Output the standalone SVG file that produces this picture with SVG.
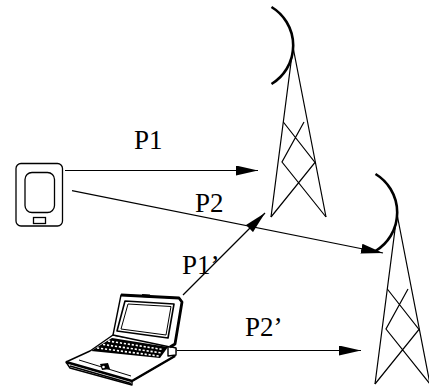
<svg xmlns="http://www.w3.org/2000/svg" width="429" height="388" viewBox="0 0 429 388">
  <style>
    .bg { fill: #ffffff; }
    .leg { fill: none; stroke: #000; stroke-width: 1.2; }
    .dish { fill: none; stroke: #000; stroke-width: 2.6; }
    .link { fill: none; stroke: #000; stroke-width: 1.2; }
    .body { fill: #fff; stroke: #000; stroke-width: 1.3; }
    .label { font-family: "Liberation Serif", "Times New Roman", serif; font-size: 27px; fill: #000; }
  </style>
  <defs>
    <marker id="head" markerUnits="userSpaceOnUse" markerWidth="22" markerHeight="10" refX="22" refY="5" orient="auto">
      <path d="M0,0 L22,5 L0,10 z" fill="#000"/>
    </marker>
    <!-- lattice mast with a dish antenna on top -->
    <g id="mast">
      <path class="dish" d="M271.5,7 A45,45 0 0 1 271.5,84"/>
      <path class="leg" d="M271,217 L293,47 L326,217"/>
      <path class="leg" d="M283.3,122 L315,162.5 L271,217 M304,122 L282,162 L326,217"/>
    </g>
  </defs>
  <rect class="bg" x="0" y="0" width="429" height="388"/>

  <g id="tower1">
    <use href="#mast"/>
  </g>
  <g id="tower2">
    <use href="#mast" transform="translate(104,167)"/>
  </g>

  <g id="phone">
    <rect class="body" x="16" y="163.5" width="46.5" height="62.5" rx="5"/>
    <rect class="body" x="25" y="172.5" width="29.5" height="40" rx="7"/>
    <rect class="body" x="33.5" y="217.5" width="12" height="6"/>
  </g>

  <g id="laptop" stroke-linejoin="round">
    <!-- base -->
    <path d="M113,335 L169,345 L176,349 L175,356 L132,381 L132,385 L70,368 L66,362 L90,351 z" fill="#fff" stroke="#000" stroke-width="1.4"/>
    <path d="M66,362 L132,381 L175,356" fill="none" stroke="#000" stroke-width="2.4"/>
    <path d="M70,366 L131,383.5" fill="none" stroke="#000" stroke-width="1.6"/>
    <!-- keyboard -->
    <path d="M112,338 L168,347 L160,358 L91,351 z" fill="#000"/>
    <g stroke="#fff" stroke-width="1.6" stroke-dasharray="2.2 1.8" fill="none">
      <path d="M108,341 L163,349.5"/>
      <path d="M103,344.5 L162,353"/>
      <path d="M97,348 L159,356"/>
    </g>
    <!-- palm rest and pointer -->
    <path d="M79,360 L131,376" fill="none" stroke="#000" stroke-width="1"/>
    <path d="M100,364 L108,363 L110,369 L102,370 z" fill="#000"/>
    <circle cx="103.5" cy="367" r="1.3" fill="#fff"/>
    <!-- right side block -->
    <path d="M168,346 L176,348 L176,355 L168,356 z" fill="#fff" stroke="#000" stroke-width="1.4"/>
    <!-- lid -->
    <path d="M121,295 L179,298 L182,302 L175,344 L170,347 L113,335 z" fill="#fff" stroke="#000" stroke-width="1.4"/>
    <path d="M121,295 L179,298 L182,302 L175,344 L170,347" fill="none" stroke="#000" stroke-width="2.8"/>
    <path d="M142,295.5 L150,296" stroke="#000" stroke-width="3"/>
    <path d="M125,301 L174,304 L168,338 L117,331 z" fill="none" stroke="#000" stroke-width="1.6"/>
    <path d="M128,304 L171,306.5 L166,335 L121,329 z" fill="#fff" stroke="#000" stroke-width="1"/>
  </g>

  <g id="links">
    <path class="link" d="M65,170.5 L258,170.5" marker-end="url(#head)"/>
    <path class="link" d="M72,190.7 L383,253" marker-end="url(#head)"/>
    <path class="link" d="M183,295 L265,213" marker-end="url(#head)"/>
    <path class="link" d="M177,350.5 L361,350.5" marker-end="url(#head)"/>
  </g>

  <g id="labels">
    <text class="label" x="134" y="149">P1</text>
    <text class="label" x="195" y="212">P2</text>
    <text class="label" x="182" y="274">P1’</text>
    <text class="label" x="245" y="336">P2’</text>
  </g>
</svg>
